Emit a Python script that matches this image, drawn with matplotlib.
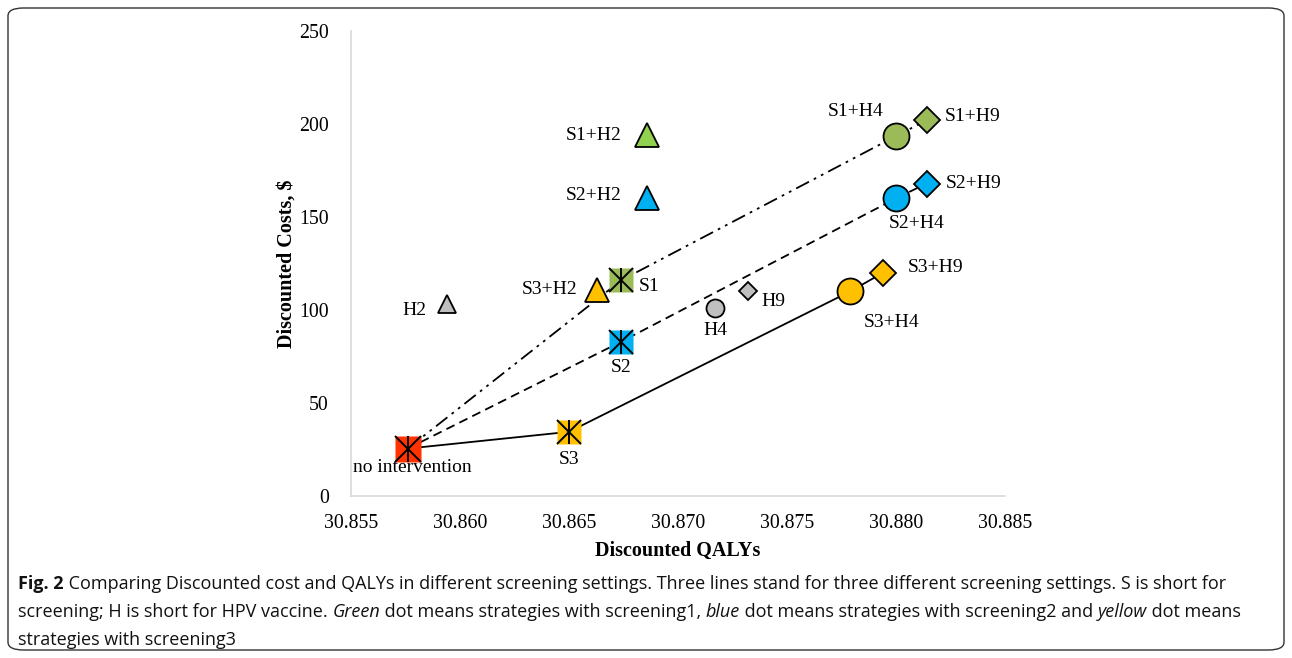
import matplotlib
matplotlib.use("Agg")
import matplotlib.pyplot as plt
from matplotlib.patches import FancyBboxPatch

# strategy data
names = ["no intervention", "S1", "S2", "S3", "H2", "H4", "H9",
         "S1+H2", "S2+H2", "S3+H2", "S1+H4", "S2+H4", "S3+H4",
         "S1+H9", "S2+H9", "S3+H9"]
qalys = [30.8576, 30.8674, 30.8674, 30.8650, 30.8594, 30.8717, 30.8732,
         30.8686, 30.8686, 30.8663, 30.8800, 30.8800, 30.8779,
         30.8814, 30.8814, 30.8794]
costs = [25.5, 116, 83, 34.5, 103, 101, 110,
         194, 160, 111, 193.5, 160, 110,
         202, 168, 120]

# frontier lines per screening setting
line_s1 = ["no intervention", "S1", "S1+H4", "S1+H9"]
line_s2 = ["no intervention", "S2", "S2+H4", "S2+H9"]
line_s3 = ["no intervention", "S3", "S3+H4", "S3+H9"]

x_ticks = [30.855, 30.860, 30.865, 30.870, 30.875, 30.880, 30.885]
y_ticks = [0, 50, 100, 150, 200, 250]

GREEN = "#9BBB59"
LGREEN = "#92D050"
BLUE = "#00B0F0"
YELLOW = "#FFC000"
RED = "#FF3300"
GRAY = "#BFBFBF"

# marker, colour, size(px), label offset(px) and alignment
style = {
    "no intervention": ("s", RED, 27, (5, -19), "center", "center"),
    "S1": ("s", GREEN, 24, (28, -6), "center", "center"),
    "S2": ("s", BLUE, 24, (0, -26), "center", "center"),
    "S3": ("s", YELLOW, 24, (0, -28), "center", "center"),
    "H2": ("^", GRAY, 18, (-20, -6), "right", "center"),
    "H4": ("o", GRAY, 18, (0, -22), "center", "center"),
    "H9": ("D", GRAY, 13, (14, -10), "left", "center"),
    "S1+H2": ("^", LGREEN, 24, (-26, 0), "right", "center"),
    "S2+H2": ("^", BLUE, 24, (-26, 3), "right", "center"),
    "S3+H2": ("^", YELLOW, 24, (-20, 0), "right", "center"),
    "S1+H4": ("o", GREEN, 26, (-40, 25), "center", "center"),
    "S2+H4": ("o", BLUE, 26, (21, -25), "center", "center"),
    "S3+H4": ("o", YELLOW, 26, (41, -31), "center", "center"),
    "S1+H9": ("D", GREEN, 18, (18, 4), "left", "center"),
    "S2+H9": ("D", BLUE, 18, (19, 0), "left", "center"),
    "S3+H9": ("D", YELLOW, 18, (25, 5), "left", "center"),
}

plt.rcParams["font.family"] = ["Liberation Serif", "DejaVu Serif"]

fig = plt.figure(figsize=(12.92, 6.58), dpi=100)
ax = fig.add_axes([351 / 1292, 1 - 496 / 658, 654 / 1292, 465 / 658])

PX = 0.72  # points per pixel at 100 dpi
lookup = {n: (q, c) for n, q, c in zip(names, qalys, costs)}


def draw_path(path, ls):
    xs = [lookup[n][0] for n in path]
    ys = [lookup[n][1] for n in path]
    ax.plot(xs, ys, color="black", lw=1.3, ls=ls, zorder=2)


draw_path(line_s1, (0, (8, 3, 1.5, 3, 1.5, 3)))
draw_path(line_s2, (0, (5, 3)))
draw_path(line_s3, "-")

for n in names:
    mk, col, size, off, ha, va = style[n]
    q, c = lookup[n]
    ms = size * PX
    if mk == "s":
        ax.plot(q, c, marker=mk, ms=ms, mfc=col, mec="none", ls="none", zorder=3)
        ax.plot(q, c, marker="x", ms=ms, mec="black", mew=1.4, ls="none", zorder=4)
        ax.plot(q, c, marker="|", ms=ms, mec="black", mew=1.4, ls="none", zorder=4)
    else:
        ax.plot(q, c, marker=mk, ms=ms, mfc=col, mec="black", mew=1.3,
                ls="none", zorder=3)
    ax.annotate(n, (q, c), xytext=(off[0] * PX, off[1] * PX),
                textcoords="offset points", ha=ha, va=va, fontsize=14, zorder=5)

ax.set_xlim(30.855, 30.885)
ax.set_ylim(0, 250)
ax.set_xticks(x_ticks)
ax.set_xticklabels(["%.3f" % t for t in x_ticks])
ax.set_yticks(y_ticks)
ax.tick_params(length=0, labelsize=14.3)
ax.tick_params(axis="x", pad=13)
ax.tick_params(axis="y", pad=16)
for s in ["top", "right"]:
    ax.spines[s].set_visible(False)
for s in ["left", "bottom"]:
    ax.spines[s].set_color("#D9D9D9")
    ax.spines[s].set_linewidth(1.2)
ax.set_xlabel("Discounted QALYs", fontsize=14.5, fontweight="bold", labelpad=6)
ax.set_ylabel("Discounted Costs, $", fontsize=14.5, fontweight="bold", labelpad=2)

# rounded frame around the whole figure
frame = FancyBboxPatch((8 / 1292, 8 / 658), 1276 / 1292, 642 / 658,
                       boxstyle="round,pad=0,rounding_size=0.012",
                       transform=fig.transFigure, fill=False,
                       ec="#333333", lw=1.0)
fig.patches.append(frame)

# caption, with bold and italic pieces
cap_font = ["Open Sans", "DejaVu Sans"]
caption = [
    [("Fig. 2", "bold", "normal"),
     (" Comparing Discounted cost and QALYs in different screening settings. "
      "Three lines stand for three different screening settings. S is short for", "normal", "normal")],
    [("screening; H is short for HPV vaccine. ", "normal", "normal"),
     ("Green", "normal", "italic"),
     (" dot means strategies with screening1, ", "normal", "normal"),
     ("blue", "normal", "italic"),
     (" dot means strategies with screening2 and ", "normal", "normal"),
     ("yellow", "normal", "italic"),
     (" dot means", "normal", "normal")],
    [("strategies with screening3", "normal", "normal")],
]
renderer = fig.canvas.get_renderer()
line_y = [584, 612, 640]
for parts, py in zip(caption, line_y):
    x0 = 18
    for txt, wt, st in parts:
        t = fig.text(x0 / 1292, 1 - py / 658, txt, fontsize=13.0, fontweight=wt,
                     fontstyle=st, family=cap_font, color="#111111",
                     va="center", ha="left")
        bb = t.get_window_extent(renderer=renderer)
        x0 += bb.width

fig.savefig("out.png", dpi=100)
